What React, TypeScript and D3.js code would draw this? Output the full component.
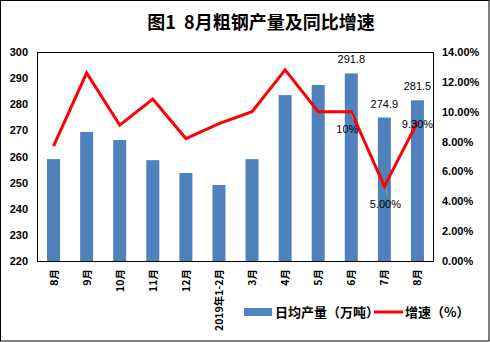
import React from "react";
import * as d3 from "d3";

const categories = ["8月", "9月", "10月", "11月", "12月", "2019年1-2月", "3月", "4月", "5月", "6月", "7月", "8月"];
const dailyOutput = [259.0, 269.4, 266.3, 258.6, 253.7, 249.1, 259.0, 283.5, 287.4, 291.8, 274.9, 281.5];
const growth = [7.7, 12.6, 9.1, 10.85, 8.2, 9.2, 10.0, 12.8, 10.0, 10.0, 5.0, 9.3];
const leftTicks = [220, 230, 240, 250, 260, 270, 280, 290, 300];
const rightTicks = [0, 2, 4, 6, 8, 10, 12, 14];
const barLabels: (string | null)[] = [null, null, null, null, null, null, null, null, null, "291.8", "274.9", "281.5"];
const lineLabels: (string | null)[] = [null, null, null, null, null, null, null, null, null, "10%", "5.00%", "9.30%"];

const W = 490, H = 342;
const M = { left: 37, right: 434, top: 52, bottom: 261 };
const FONT = "'Liberation Sans', Arial, 'Noto Sans CJK SC', sans-serif";
const CJK = "'Noto Sans CJK SC', sans-serif";

export default function App() {
  const x = d3.scaleBand<number>().domain(d3.range(categories.length)).range([M.left, M.right]);
  const xc = (i: number) => (x(i) as number) + x.bandwidth() / 2;
  const bw = 13;
  const yL = d3.scaleLinear().domain([220, 300]).range([M.bottom, M.top]);
  const yR = d3.scaleLinear().domain([0, 14]).range([M.bottom, M.top]);
  const line = d3.line<number>().x((_, i) => xc(i)).y((d) => yR(d));

  const labelOffsets: Record<number, [number, number, string]> = {
    9: [-4, 21, "middle"],
    10: [1, 22, "middle"],
    11: [0, 6, "middle"],
  };

  return (
    <svg width={W} height={H} style={{ position: "fixed", left: 0, top: 0, background: "#fff" }}>
      <rect x={0.5} y={0.5} width={W - 1.5} height={H - 1.5} fill="#fff" stroke="#000" strokeWidth={1} />
      <text x={261} y={29} textAnchor="middle" fontFamily={CJK} fontWeight="bold" fontSize={18} fill="#000" style={{ whiteSpace: "pre" }}>
        {"图1  8月粗钢产量及同比增速"}
      </text>
      {dailyOutput.map((v, i) => (
        <rect key={i} x={xc(i) - bw / 2} y={yL(v)} width={bw} height={M.bottom - yL(v)} fill="#4f81bd" />
      ))}
      <rect x={M.left + 0.5} y={M.top + 0.5} width={M.right - M.left - 1} height={M.bottom - M.top} fill="none" stroke="#000" strokeWidth={1} />
      <path d={line(growth) || ""} fill="none" stroke="#ff0000" strokeWidth={3} strokeLinejoin="miter" />
      {barLabels.map((t, i) =>
        t ? (
          <text key={i} x={xc(i)} y={yL(dailyOutput[i]) - 10} textAnchor="middle" fontFamily={FONT} fontSize={11} fill="#000">
            {t}
          </text>
        ) : null
      )}
      {lineLabels.map((t, i) => {
        if (!t) return null;
        const [dx, dy, anchor] = labelOffsets[i];
        return (
          <g key={i}>
            {i === 10 && <line x1={xc(i) + 1} y1={yR(growth[i]) + 2} x2={xc(i) + 3} y2={yR(growth[i]) + 10} stroke="#999" strokeWidth={1} />}
            {i === 9 && <line x1={xc(i)} y1={yR(growth[i]) + 2} x2={xc(i) + 2} y2={yR(growth[i]) + 8} stroke="#999" strokeWidth={1} />}
            <text x={xc(i) + dx} y={yR(growth[i]) + dy} textAnchor={anchor} fontFamily={FONT} fontSize={11} fill="#000">
              {t}
            </text>
          </g>
        );
      })}
      {leftTicks.map((t) => (
        <text key={t} x={28} y={yL(t) + 4} textAnchor="end" fontFamily={FONT} fontWeight="bold" fontSize={11} fill="#000">
          {t}
        </text>
      ))}
      {rightTicks.map((t) => (
        <text key={t} x={442} y={yR(t) + 4} textAnchor="start" fontFamily={FONT} fontWeight="bold" fontSize={11} fill="#000">
          {d3.format(".2f")(t) + "%"}
        </text>
      ))}
      {categories.map((c, i) => (
        <text key={i} transform={`translate(${xc(i) + 4},${269}) rotate(-90)`} textAnchor="end" fontFamily={CJK} fontWeight="bold" fontSize={10.5} fill="#000">
          {c}
        </text>
      ))}
      <rect x={244} y={308} width={28} height={8} fill="#4f81bd" />
      <text x={275} y={317} fontFamily={CJK} fontWeight="bold" fontSize={13} fill="#000">日均产量（万吨）</text>
      <line x1={374} y1={312} x2={403} y2={312} stroke="#ff0000" strokeWidth={3} />
      <text x={405} y={317} fontFamily={CJK} fontWeight="bold" fontSize={13} fill="#000">增速（%）</text>
    </svg>
  );
}
